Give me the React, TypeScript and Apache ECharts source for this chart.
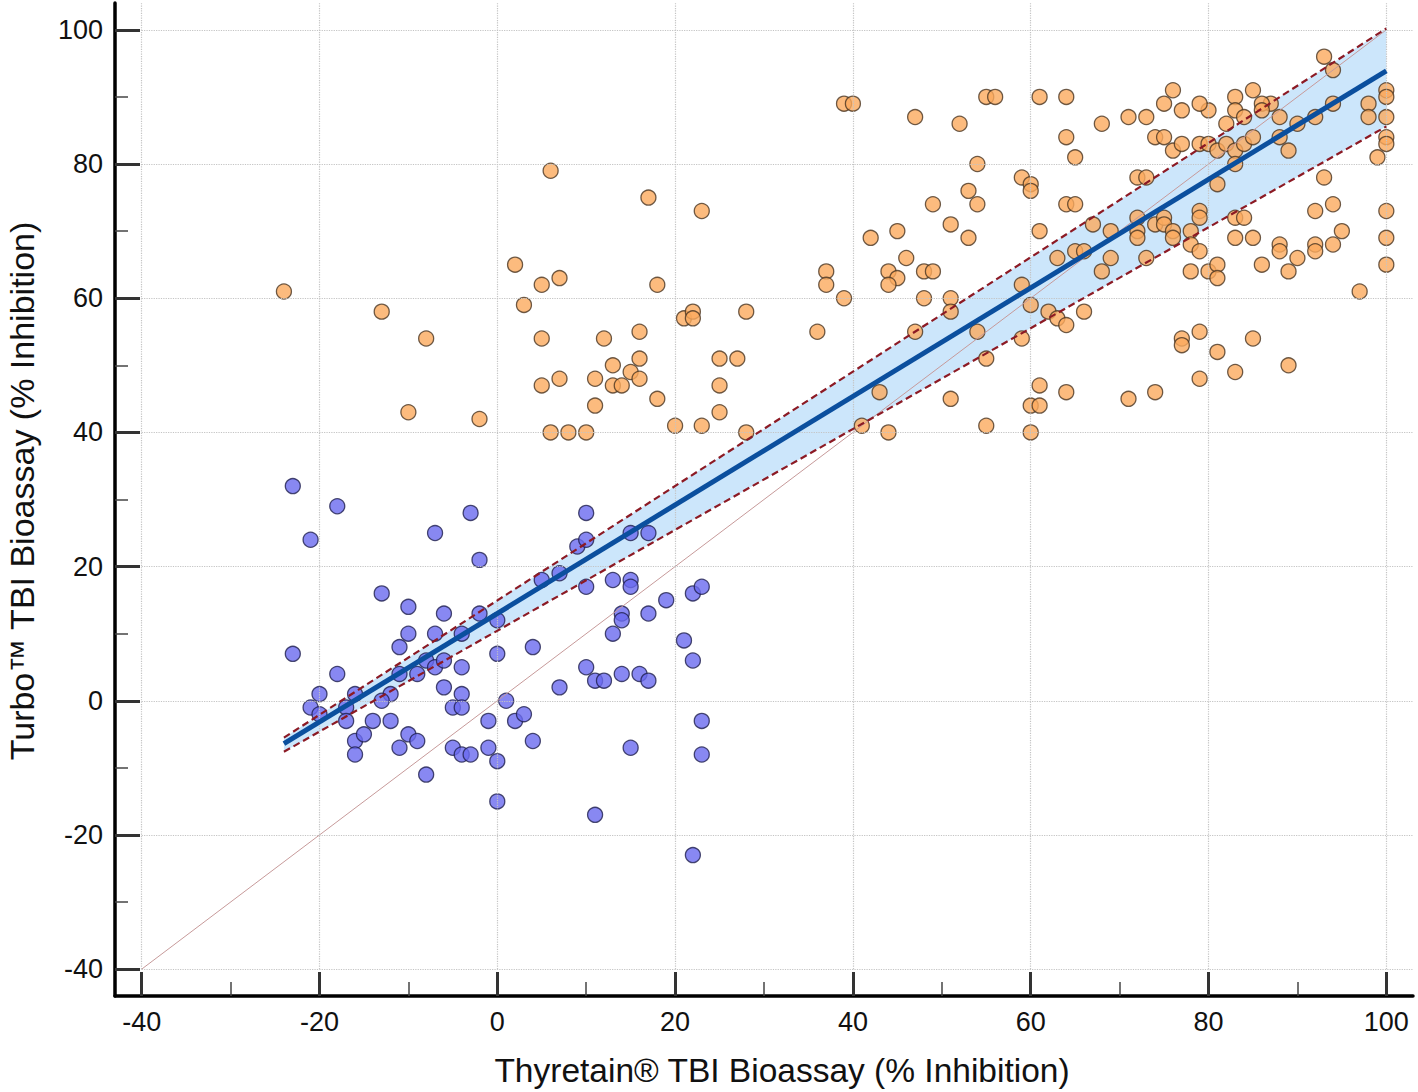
import React, { useEffect, useRef } from "react";
import * as echarts from "echarts";

const xMajor = [-40, -20, 0, 20, 40, 60, 80, 100];
const xMinor = [-30, -10, 10, 30, 50, 70, 90];
const yMajor = [-40, -20, 0, 20, 40, 60, 80, 100];
const yMinor = [-30, -10, 10, 30, 50, 70, 90];

const xTitle = "Thyretain® TBI Bioassay (% Inhibition)";
const yTitle = "Turbo™ TBI Bioassay (% Inhibition)";

// Negative (blue) samples
const bluePoints = [
  [-23, 32], [-18, 29], [-21, 24], [-3, 28], [-7, 25], [-2, 21], [10, 28], [9, 23], [10, 24], [15, 25], [17, 25],
  [-13, 16], [-10, 14], [-6, 13], [-2, 13], [0, 12], [-10, 10], [-7, 10], [-4, 10], [-11, 8], [5, 18], [7, 19],
  [10, 17], [13, 18], [15, 18], [15, 17], [19, 15], [22, 16], [23, 17], [14, 13], [14, 12], [17, 13], [13, 10],
  [21, 9], [-23, 7], [-18, 4], [-20, 1], [-16, 1], [-12, 1], [-8, 6], [-9, 4], [-7, 5], [-6, 6], [-4, 5], [-11, 4],
  [-6, 2], [0, 7], [4, 8], [10, 5], [11, 3], [12, 3], [14, 4], [16, 4], [17, 3], [22, 6], [7, 2], [-4, 1],
  [-21, -1], [-20, -2], [-17, -1], [-17, -3], [-13, 0], [-5, -1], [-4, -1], [1, 0], [-14, -3], [-12, -3],
  [-16, -6], [-15, -5], [-16, -8], [-10, -5], [-9, -6], [-11, -7], [-5, -7], [-4, -8], [-3, -8], [-8, -11],
  [-1, -3], [-1, -7], [0, -9], [2, -3], [3, -2], [4, -6], [15, -7], [23, -3], [23, -8], [0, -15], [11, -17],
  [22, -23],
];

// Positive (orange) samples
const orangePoints = [
  [-24, 61], [-13, 58], [-8, 54], [-10, 43], [-2, 42], [6, 79], [2, 65], [5, 62], [7, 63], [3, 59], [5, 54],
  [12, 54], [16, 55], [17, 75], [23, 73], [18, 62], [21, 57], [22, 58], [22, 57], [28, 58], [25, 51], [27, 51],
  [16, 51], [13, 50], [15, 49], [16, 48], [11, 48], [7, 48], [5, 47], [13, 47], [14, 47], [25, 47], [11, 44],
  [18, 45], [25, 43], [20, 41], [23, 41], [6, 40], [8, 40], [10, 40], [28, 40],
  [37, 64], [37, 62], [39, 60], [36, 55], [41, 41],
  [39, 89], [40, 89], [47, 87], [52, 86], [55, 90], [56, 90], [61, 90], [64, 90], [71, 87], [68, 86], [64, 84],
  [65, 81], [54, 80], [59, 78], [60, 77], [60, 76], [53, 76], [49, 74], [54, 74], [64, 74], [65, 74], [42, 69],
  [45, 70], [51, 71], [53, 69], [61, 70], [67, 71], [69, 70], [46, 66], [63, 66], [69, 66], [65, 67], [66, 67],
  [44, 64], [45, 63], [44, 62], [48, 64], [49, 64], [68, 64], [48, 60], [51, 60], [51, 58], [59, 62], [60, 59],
  [62, 58], [63, 57], [64, 56], [66, 58], [47, 55], [54, 55], [59, 54], [55, 51], [43, 46], [51, 45], [61, 47],
  [64, 46], [60, 44], [61, 44], [71, 45], [44, 40], [55, 41], [60, 40],
  [93, 96], [94, 94], [100, 91], [100, 90], [98, 89], [98, 87], [100, 87], [94, 89], [92, 87], [90, 86], [88, 87],
  [87, 89], [86, 89], [86, 88], [85, 91], [83, 90], [83, 88], [84, 87], [82, 86], [80, 88], [79, 89], [77, 88],
  [76, 91], [75, 89], [73, 87], [74, 84], [75, 84], [76, 82], [77, 83], [79, 83], [80, 83], [81, 82], [82, 83],
  [83, 82], [84, 83], [85, 84], [83, 80], [88, 84], [89, 82], [100, 84], [100, 83], [99, 81], [81, 77], [72, 78],
  [73, 78], [93, 78], [72, 72], [72, 70], [72, 69], [74, 71], [75, 72], [75, 71], [76, 70], [76, 69], [78, 70],
  [78, 68], [79, 73], [79, 72], [79, 67], [73, 66], [78, 64], [80, 64], [81, 65], [81, 63], [83, 72], [84, 72],
  [83, 69], [85, 69], [86, 65], [88, 68], [88, 67], [89, 64], [90, 66], [92, 68], [92, 67], [92, 73], [94, 74],
  [94, 68], [95, 70], [100, 73], [100, 69], [100, 65], [97, 61], [77, 54], [77, 53], [79, 55], [85, 54], [81, 52],
  [83, 49], [89, 50], [79, 48], [74, 46],
];

// Regression fit and its confidence band (ends at x = -24 and x = 100)
const fitX = [-24, 100];
const fitY = [-6.4, 93.9];
const upperY = [-5.5, 100.2];
const lowerY = [-7.6, 85.6];
const identityXY = [-40, 100];

const X_MIN = -43;
const X_MAX = 103;
const Y_MIN = -44;
const Y_MAX = 104;

const FONT = "'Liberation Sans', Arial, sans-serif";

export default function App() {
  const ref = useRef<HTMLDivElement>(null);

  useEffect(() => {
    if (!ref.current) return;
    const chart = echarts.init(ref.current, undefined, { renderer: "svg" });

    const gridLines: any[] = [];
    xMajor.forEach((v) => gridLines.push([{ coord: [v, yMajor[0]] }, { coord: [v, Y_MAX] }]));
    yMajor.forEach((v) => gridLines.push([{ coord: [xMajor[0], v] }, { coord: [X_MAX, v] }]));

    const option: any = {
      animation: false,
      backgroundColor: "#ffffff",
      grid: { left: 115, right: 5, top: 3, bottom: 96, containLabel: false },
      xAxis: [
        {
          type: "value",
          min: X_MIN,
          max: X_MAX,
          splitLine: { show: false },
          axisLine: { show: true, onZero: false, lineStyle: { color: "#000", width: 3.5 } },
          axisTick: {
            show: true,
            inside: true,
            length: 24,
            customValues: xMajor,
            lineStyle: { color: "#333", width: 3 },
          },
          axisLabel: {
            customValues: xMajor,
            margin: 12,
            fontSize: 27,
            fontFamily: FONT,
            color: "#111",
          },
        },
        {
          type: "value",
          min: X_MIN,
          max: X_MAX,
          position: "bottom",
          splitLine: { show: false },
          axisLine: { show: false, onZero: false },
          axisTick: {
            show: true,
            inside: true,
            length: 14,
            customValues: xMinor,
            lineStyle: { color: "#444", width: 1.5 },
          },
          axisLabel: { show: false },
        },
      ],
      yAxis: [
        {
          type: "value",
          min: Y_MIN,
          max: Y_MAX,
          splitLine: { show: false },
          axisLine: { show: true, onZero: false, lineStyle: { color: "#000", width: 3.5 } },
          axisTick: {
            show: true,
            inside: true,
            length: 25,
            customValues: yMajor,
            lineStyle: { color: "#333", width: 3 },
          },
          axisLabel: {
            customValues: yMajor,
            margin: 12,
            fontSize: 27,
            fontFamily: FONT,
            color: "#111",
          },
        },
        {
          type: "value",
          min: Y_MIN,
          max: Y_MAX,
          position: "left",
          splitLine: { show: false },
          axisLine: { show: false, onZero: false },
          axisTick: {
            show: true,
            inside: true,
            length: 13,
            customValues: yMinor,
            lineStyle: { color: "#444", width: 1.5 },
          },
          axisLabel: { show: false },
        },
      ],
      series: [
        {
          type: "line",
          data: [],
          z: 1,
          silent: true,
          markLine: {
            silent: true,
            symbol: ["none", "none"],
            label: { show: false },
            lineStyle: { type: "dotted", color: "#c4c4c4", width: 1.2 },
            data: gridLines,
          },
        },
        {
          type: "custom",
          z: 2,
          silent: true,
          data: [[fitX[0], lowerY[0]]],
          renderItem: (_params: any, api: any) => {
            const pts = [
              api.coord([fitX[0], upperY[0]]),
              api.coord([fitX[1], upperY[1]]),
              api.coord([fitX[1], lowerY[1]]),
              api.coord([fitX[0], lowerY[0]]),
            ];
            return {
              type: "polygon",
              shape: { points: pts },
              style: { fill: "#cce6fb", stroke: null },
            };
          },
        },
        {
          type: "scatter",
          z: 3,
          data: bluePoints,
          symbol: "circle",
          symbolSize: 15,
          itemStyle: { color: "#6a6aef", borderColor: "#1e1e4e", borderWidth: 1.3 },
        },
        {
          type: "scatter",
          z: 3,
          data: orangePoints,
          symbol: "circle",
          symbolSize: 15,
          itemStyle: { color: "#fbaa5e", borderColor: "#4a3520", borderWidth: 1.3 },
        },
        {
          type: "line",
          z: 4,
          data: [
            [identityXY[0], identityXY[0]],
            [identityXY[1], identityXY[1]],
          ],
          symbol: "none",
          lineStyle: { color: "#c79a9a", width: 1 },
        },
        {
          type: "line",
          z: 5,
          data: fitX.map((x, i) => [x, upperY[i]]),
          symbol: "none",
          lineStyle: { color: "#8c1a24", width: 2.2, type: [7, 4] },
        },
        {
          type: "line",
          z: 5,
          data: fitX.map((x, i) => [x, lowerY[i]]),
          symbol: "none",
          lineStyle: { color: "#8c1a24", width: 2.2, type: [7, 4] },
        },
        {
          type: "line",
          z: 6,
          data: fitX.map((x, i) => [x, fitY[i]]),
          symbol: "none",
          lineStyle: { color: "#0b4f9e", width: 5 },
        },
      ],
      graphic: [
        {
          type: "text",
          x: 782,
          y: 1070,
          style: {
            text: xTitle,
            font: `33.5px ${FONT}`,
            fill: "#111",
            textAlign: "center",
            textVerticalAlign: "middle",
          },
        },
        {
          type: "text",
          x: 22,
          y: 491,
          rotation: Math.PI / 2,
          style: {
            text: yTitle,
            font: `34px ${FONT}`,
            fill: "#111",
            textAlign: "center",
            textVerticalAlign: "middle",
          },
        },
      ],
    };

    chart.setOption(option);
    return () => chart.dispose();
  }, []);

  return (
    <div
      ref={ref}
      style={{ position: "fixed", left: 0, top: 0, width: 1418, height: 1092, background: "#fff" }}
    />
  );
}
